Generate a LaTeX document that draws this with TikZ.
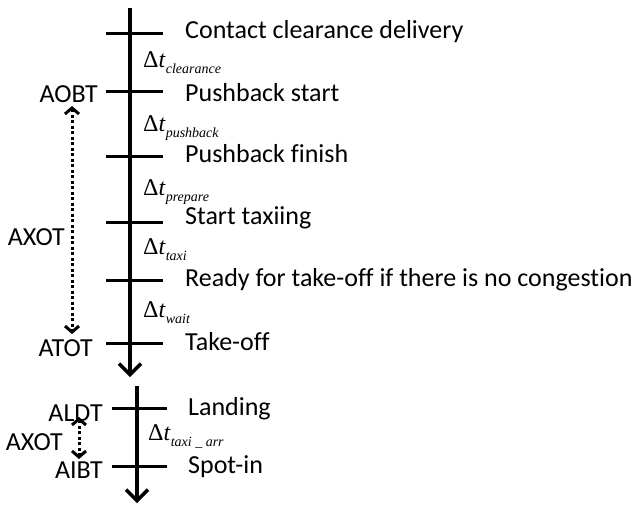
\documentclass[tikz,border=0pt]{standalone}
\usepackage{fontspec}
\setmainfont{Carlito}[Ligatures={NoCommon}]
\newfontfamily\tms{Liberation Serif}
\usetikzlibrary{arrows.meta}
\newcommand{\dt}[1]{{\tms\fontsize{24}{24}\selectfont Δ\textit{t}\raisebox{-6pt}{\fontsize{14}{14}\selectfont\itshape #1}}}
\begin{document}
\begin{tikzpicture}[x=1pt, y=-1pt,
                    every node/.style={inner sep=0pt, font=\fontsize{26}{26}\selectfont},
                    axis/.style={line width=4pt, -{Straight Barb[length=11pt,width=22pt,line width=3.5pt]}},
                    tick/.style={line width=3pt},
                    span/.style={line width=3pt, dash pattern=on 3pt off 2.5pt,
                                 {Straight Barb[length=6pt,width=14pt,line width=3pt]}-{Straight Barb[length=6pt,width=14pt,line width=3pt]}}]
\useasboundingbox (0,0) rectangle (632,504);
% departure
\coordinate (top) at (130,8);
\coordinate (bot) at (130,377);
\draw[axis] (top) -- (bot);
\coordinate (cdL) at (106,33);  \coordinate (cdR) at (163,33);
\coordinate (psL) at (106,91);  \coordinate (psR) at (163,91);
\coordinate (pfL) at (106,156); \coordinate (pfR) at (163,156);
\coordinate (stL) at (106,222); \coordinate (stR) at (163,222);
\coordinate (rtL) at (106,280); \coordinate (rtR) at (163,280);
\coordinate (toL) at (106,343); \coordinate (toR) at (163,343);
\draw[tick] (cdL) -- (cdR);
\draw[tick] (psL) -- (psR);
\draw[tick] (pfL) -- (pfR);
\draw[tick] (stL) -- (stR);
\draw[tick] (rtL) -- (rtR);
\draw[tick] (toL) -- (toR);
\node[anchor=base west] (cd) at (185,38)  {Contact clearance delivery};
\node[anchor=base west] (ps) at (185,101) {Pushback start};
\node[anchor=base west] (pf) at (185,162) {Pushback finish};
\node[anchor=base west] (st) at (185,224) {Start taxiing};
\node[anchor=base west] (rt) at (185,286) {Ready for take-off if there is no congestion};
\node[anchor=base west] (to) at (185,350) {Take-off};
\node[anchor=base west] (d1) at (143,67)  {\dt{clearance}};
\node[anchor=base west] (d2) at (143,131) {\dt{pushback}};
\node[anchor=base west] (d3) at (143,195) {\dt{prepare}};
\node[anchor=base west] (d4) at (143,254) {\dt{taxi}};
\node[anchor=base west] (d5) at (143,317) {\dt{wait}};
\node[anchor=base east] (aobt) at (98,102) {AOBT};
\node[anchor=base east] (axot) at (65,245) {AXOT};
\node[anchor=base east] (atot) at (93,356) {ATOT};
\coordinate (sp1) at (72,106);
\coordinate (sp2) at (72,334);
\draw[span] (sp1) -- (sp2);
% arrival
\coordinate (top2) at (137,386);
\coordinate (bot2) at (137,503);
\draw[axis] (top2) -- (bot2);
\coordinate (ldL) at (112,408); \coordinate (ldR) at (167,408);
\coordinate (siL) at (112,466); \coordinate (siR) at (167,466);
\draw[tick] (ldL) -- (ldR);
\draw[tick] (siL) -- (siR);
\node[anchor=base west] (ld) at (188,415) {Landing};
\node[anchor=base west] (si) at (188,473) {Spot-in};
\node[anchor=base west] (d6) at (148,440) {\dt{taxi \_ arr}};
\node[anchor=base east] (aldt) at (103,421) {ALDT};
\node[anchor=base east] (axot2) at (63,450) {AXOT};
\node[anchor=base east] (aibt) at (103,478) {AIBT};
\coordinate (sp3) at (79,417);
\coordinate (sp4) at (79,459);
\draw[span] (sp3) -- (sp4);
\end{tikzpicture}
\end{document}
